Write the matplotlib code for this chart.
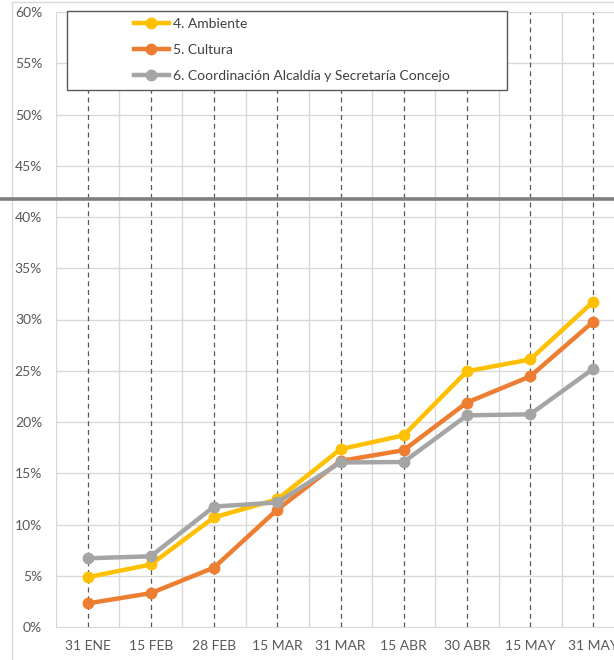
import numpy as np
import matplotlib
matplotlib.use("Agg")
import matplotlib.pyplot as plt
from matplotlib.patches import Rectangle
from matplotlib.lines import Line2D
from matplotlib.ticker import FuncFormatter

fechas = ["31 ENE", "15 FEB", "28 FEB", "15 MAR", "31 MAR", "15 ABR", "30 ABR", "15 MAY", "31 MAY"]
ambiente = [4.85, 6.1, 10.7, 12.45, 17.35, 18.7, 24.95, 26.1, 31.75]
cultura = [2.3, 3.3, 5.8, 11.45, 16.2, 17.25, 21.9, 24.45, 29.8]
coordinacion = [6.7, 6.9, 11.75, 12.15, 16.05, 16.1, 20.65, 20.75, 25.2]

series = [
    ("4. Ambiente", ambiente, "#FFC000"),
    ("5. Cultura", cultura, "#ED7D31"),
    ("6. Coordinación Alcaldía y Secretaría Concejo", coordinacion, "#A5A5A5"),
]

plt.rcParams['font.family'] = ['Lato', 'DejaVu Sans']

W, H = 614, 660
fig = plt.figure(figsize=(W / 100, H / 100), dpi=100)
ax = fig.add_axes([56 / W, 1 - 627 / H, (625 - 56) / W, (627 - 12) / H])

x = np.arange(len(fechas))

# grid
for yv in range(5, 65, 5):
    ax.axhline(yv, color="#D9D9D9", lw=1, zorder=0)
for xb in np.arange(-0.5, len(fechas) + 0.5, 1):
    ax.axvline(xb, color="#D9D9D9", lw=1, zorder=0)
for xc in x:
    ax.axvline(xc, color="#595959", lw=0.9, ls=(0, (4, 3)), zorder=1)

for name, vals, col in series:
    ax.plot(x, vals, color=col, lw=3.2, marker="o", ms=7.5, label=name, zorder=3)

ax.set_xlim(-0.5, len(fechas) - 0.5)
ax.set_ylim(0, 60)
ax.set_yticks(range(0, 65, 5))
ax.yaxis.set_major_formatter(FuncFormatter(lambda v, p: f"{v:.0f}%"))
ax.set_xticks(x)
ax.set_xticklabels(fechas)
ax.tick_params(axis="both", length=0, labelsize=10, labelcolor="#595959")
ax.tick_params(axis="y", pad=10)
ax.tick_params(axis="x", pad=9.5)
for s in ["top", "right", "left"]:
    ax.spines[s].set_visible(False)
ax.spines["bottom"].set_color("#D9D9D9")
ax.spines["bottom"].set_zorder(0)

# legend
fig.patches.append(Rectangle((66.5 / W, 1 - 89.5 / H), (507 - 66.5) / W, (89.5 - 11) / H,
                             transform=fig.transFigure, facecolor="white",
                             edgecolor="#595959", lw=1, zorder=4))
leg = fig.legend(loc="center left", bbox_to_anchor=(127 / W, 1 - 50 / H), frameon=False,
                 borderpad=0, handlelength=2.5, handletextpad=0.3, labelspacing=1.0,
                 fontsize=10)
leg.set_zorder(5)
for t in leg.get_texts():
    t.set_color("#404040")

# chart border and thick line
fig.patches.append(Rectangle((12 / W, -0.1), 2, 1.1 - 2 / H, transform=fig.transFigure,
                             fill=False, edgecolor="#D9D9D9", lw=1, zorder=0))
fig.add_artist(Line2D([0, 1], [1 - 198.5 / H] * 2, transform=fig.transFigure,
                      color="#7F7F7F", lw=2.6, zorder=6))

fig.savefig("out.png", dpi=100)
